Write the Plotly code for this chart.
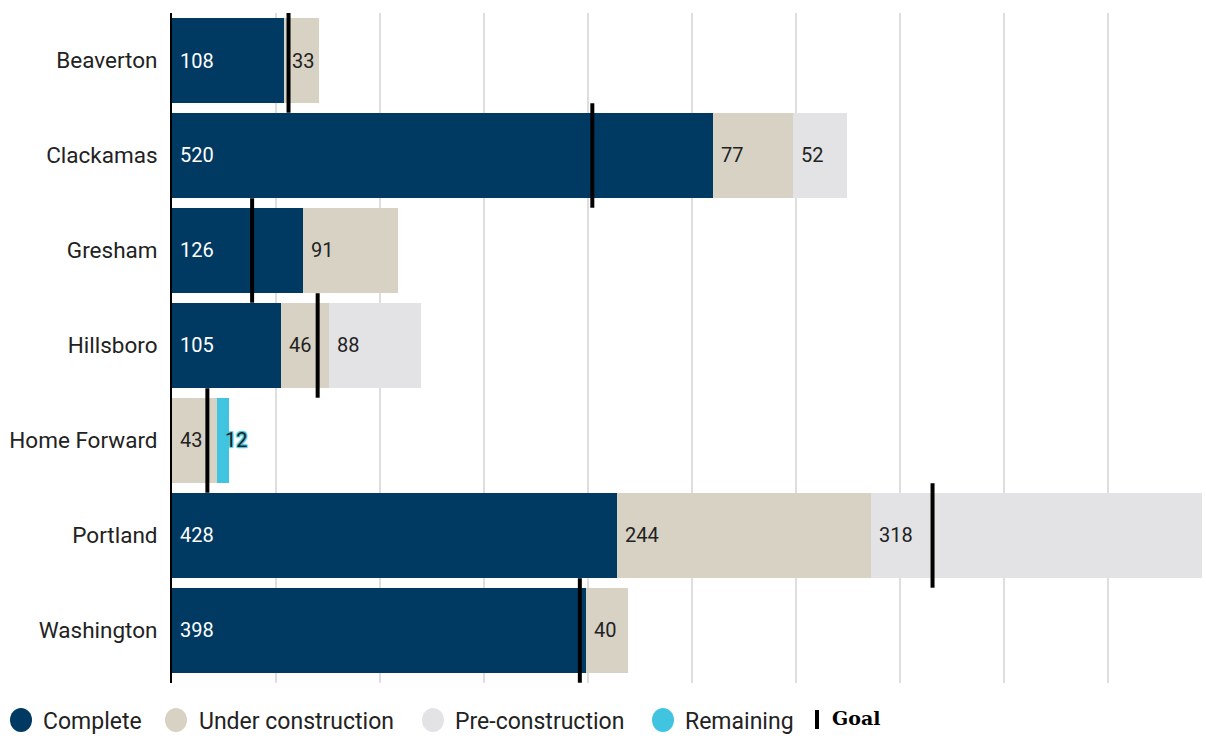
import plotly.graph_objects as go

# Housing units by jurisdiction
cities = ["Beaverton", "Clackamas", "Gresham", "Hillsboro", "Home Forward", "Portland", "Washington"]
complete = [108, 520, 126, 105, 0, 428, 398]
under_construction = [33, 77, 91, 46, 43, 244, 40]
pre_construction = [0, 52, 0, 88, 0, 318, 0]
remaining = [0, 0, 0, 0, 12, 0, 0]
goal = [112, 404, 77, 140, 34, 731, 392]

C_COMPLETE = "#003a63"
C_UNDER = "#d7d2c4"
C_PRE = "#e3e3e5"
C_REMAIN = "#40c4e0"
TXT = "#222222"
FONT = "Roboto"

W, H = 1206, 736
ML, MR, MT, MB = 172, 4, 13, 53
PW, PH = W - ML - MR, H - MT - MB

ypos = list(range(len(cities)))
BAR_W = 0.895

series = [
    ("Complete", complete, C_COMPLETE, "white"),
    ("Under construction", under_construction, C_UNDER, TXT),
    ("Pre-construction", pre_construction, C_PRE, TXT),
    ("Remaining", remaining, C_REMAIN, TXT),
]

fig = go.Figure()
for name, vals, color, _ in series:
    fig.add_trace(go.Bar(
        name=name, x=vals, y=ypos, orientation="h", width=BAR_W,
        marker=dict(color=color, line=dict(width=0)),
        showlegend=False, hoverinfo="x+name",
    ))

# Goal markers: short vertical rules across each bar
gx, gy = [], []
for i, g in enumerate(goal):
    gx += [g, g, None]
    gy += [i - 0.55, i + 0.55, None]
fig.add_trace(go.Scatter(
    x=gx, y=gy, mode="lines", line=dict(color="black", width=4),
    showlegend=False, hoverinfo="skip",
))

# Value labels at the start of each segment
annotations = []
for i in range(len(cities)):
    start = 0
    for name, vals, color, tcolor in series:
        v = vals[i]
        if v > 0:
            font = dict(family=FONT, size=20, color=tcolor)
            if name == "Remaining":
                font["shadow"] = ("0 0 2px #40c4e0, 1px 1px 1px #40c4e0, -1px -1px 1px #40c4e0, "
                                  "1px -1px 1px #40c4e0, -1px 1px 1px #40c4e0")
            annotations.append(dict(
                x=start, y=i, xref="x", yref="y", text=str(v), showarrow=False,
                xanchor="left", yanchor="middle", xshift=6, font=font,
            ))
        start += v


def px_x(p):
    return (p - ML) / PW


def px_y(p):
    return 1 - (p - MT) / PH


# Legend drawn along the bottom
shapes = []
legend_items = [
    (21, 41, "Complete", C_COMPLETE),
    (176, 197, "Under construction", C_UNDER),
    (433, 453, "Pre-construction", C_PRE),
    (663, 683, "Remaining", C_REMAIN),
]
LEG_Y = 720
for cx, tx, label, color in legend_items:
    shapes.append(dict(
        type="circle", xref="paper", yref="paper", xsizemode="pixel", ysizemode="pixel",
        xanchor=px_x(cx), yanchor=px_y(LEG_Y), x0=-11, x1=11, y0=-12, y1=12,
        fillcolor=color, line=dict(width=0),
    ))
    annotations.append(dict(
        x=px_x(tx), y=px_y(LEG_Y + 1), xref="paper", yref="paper", text=label,
        showarrow=False, xanchor="left", yanchor="middle",
        font=dict(family=FONT, size=23, color=TXT),
    ))
shapes.append(dict(
    type="rect", xref="paper", yref="paper",
    x0=px_x(815), x1=px_x(819), y0=px_y(729), y1=px_y(710),
    fillcolor="black", line=dict(width=0),
))
annotations.append(dict(
    x=px_x(830), y=px_y(LEG_Y - 2), xref="paper", yref="paper", text="<b>Goal</b>",
    showarrow=False, xanchor="left", yanchor="middle",
    font=dict(family="DejaVu Serif", size=19, color="black"),
))

fig.update_layout(
    width=W, height=H, barmode="stack",
    margin=dict(l=ML, r=MR, t=MT, b=MB, pad=0),
    plot_bgcolor="white", paper_bgcolor="white",
    annotations=annotations, shapes=shapes,
    xaxis=dict(
        range=[0, 990], dtick=100, tick0=0, showticklabels=False,
        showgrid=True, gridcolor="#dedede", gridwidth=1.5,
        zeroline=False, showline=False, fixedrange=True,
    ),
    yaxis=dict(
        range=[6.553, -0.5], tickvals=ypos, ticktext=cities,
        tickfont=dict(family=FONT, size=22.5, color=TXT),
        showgrid=False, zeroline=False, showline=True, linecolor="black",
        linewidth=2, layer="above traces", ticks="outside", ticklen=8,
        tickcolor="rgba(0,0,0,0)", fixedrange=True,
    ),
)

fig.write_html("out.html")
